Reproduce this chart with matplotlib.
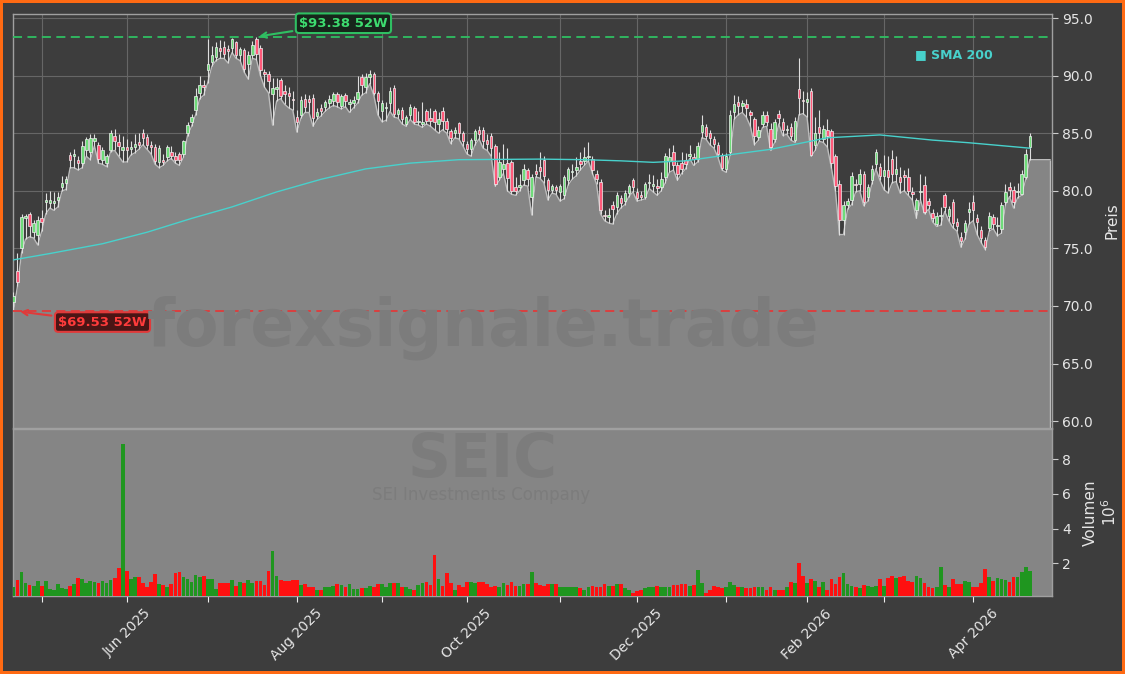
"""
SEIC daily candles with 52-week high/low, SMA 200 and volume panel.
Values were read off a reference chart screenshot.
"""

import numpy as np
import pandas as pd
import matplotlib
matplotlib.use("Agg")
import matplotlib.pyplot as plt
from matplotlib.ticker import FixedLocator, NullFormatter, FormatStrFormatter

TICKER = "SEIC"
COMPANY = "SEI Investments Company"
WATERMARK = "forexsignale.trade"

# Trading calendar (US market holidays in the range)
START = "2025-04-22"
END = "2026-04-22"
HOLIDAYS = ["2025-05-26", "2025-06-19", "2025-07-04", "2025-09-01", "2025-11-27",
            "2025-12-25", "2026-01-01", "2026-01-19", "2026-02-16", "2026-04-03"]

# ---------------------------------------------------------------------------
# Daily OHLC (USD) and volume (millions of shares)
# ---------------------------------------------------------------------------
opens = [
    70.3, 73.0, 75.0, 77.6, 78.0, 76.4, 76.2, 77.6, 79.0, 78.9,
    78.9, 79.2, 80.3, 80.7, 83.1, 83.0, 82.7, 82.4, 83.5, 83.4,
    84.3, 84.0, 82.7, 82.4, 83.5, 84.8, 84.2, 83.5, 83.8, 83.6,
    83.8, 84.2, 85.0, 84.7, 84.0, 83.8, 82.5, 82.7, 82.9, 83.4,
    83.0, 83.2, 83.2, 85.0, 86.0, 87.0, 88.5, 89.2, 90.5, 91.2,
    91.6, 92.4, 92.5, 92.3, 92.4, 92.9, 91.8, 92.2, 91.0, 91.8,
    93.2, 92.4, 90.3, 90.1, 88.4, 88.8, 89.6, 88.7, 88.5, 88.0,
    86.4, 86.6, 88.0, 88.0, 88.1, 86.5, 87.2, 87.3, 87.6, 87.8,
    88.4, 87.4, 88.3, 87.5, 87.6, 88.0, 89.9, 89.0, 89.9, 90.1,
    88.5, 86.9, 87.2, 87.6, 88.9, 86.7, 87.0, 85.8, 86.6, 87.2,
    86.0, 85.8, 86.9, 86.3, 86.9, 85.8, 86.9, 86.1, 85.2, 85.0,
    85.9, 85.0, 84.1, 83.6, 84.4, 85.3, 85.3, 84.4, 84.8, 83.9,
    81.2, 81.9, 82.4, 82.5, 80.3, 80.3, 80.9, 81.8, 79.5, 81.7,
    82.1, 82.7, 80.9, 80.1, 80.3, 79.9, 79.6, 80.9, 81.6, 81.8,
    82.6, 82.6, 82.9, 82.8, 81.5, 80.8, 77.9, 77.7, 78.8, 78.6,
    79.4, 79.1, 79.8, 80.9, 79.9, 79.6, 79.5, 80.7, 80.4, 80.4,
    80.3, 81.2, 82.6, 83.4, 82.2, 82.4, 82.7, 83.0, 82.9, 82.8,
    85.1, 85.5, 85.0, 84.5, 84.0, 83.1, 81.9, 83.4, 86.8, 87.7,
    87.4, 87.5, 86.8, 86.2, 84.7, 85.8, 86.6, 85.4, 84.5, 86.7,
    86.0, 85.3, 85.5, 84.4, 88.8, 87.9, 87.7, 88.7, 84.0, 85.5,
    84.5, 85.3, 85.2, 83.0, 80.6, 77.5, 78.8, 79.2, 80.6, 80.6,
    81.5, 79.5, 80.9, 82.3, 82.1, 81.3, 81.8, 82.8, 81.5, 81.2,
    81.4, 81.2, 79.9, 78.3, 79.9, 80.5, 79.1, 78.1, 77.1, 77.8,
    79.6, 77.8, 79.0, 77.3, 76.0, 76.4, 78.2, 79.0, 77.6, 76.6,
    75.7, 76.8, 77.7, 76.9, 76.7, 79.0, 80.3, 80.1, 79.9, 79.7,
    81.2, 83.8,
]
highs = [
    71.2, 74.6, 78.0, 78.0, 78.2, 77.5, 77.8, 78.3, 79.8, 80.0,
    79.9, 79.9, 81.3, 81.3, 83.4, 83.6, 83.0, 84.3, 84.7, 84.9,
    84.9, 84.2, 83.8, 83.2, 85.3, 85.4, 84.9, 84.8, 84.5, 84.3,
    84.9, 85.0, 85.4, 84.9, 84.3, 84.1, 84.0, 83.2, 84.0, 83.9,
    83.4, 83.4, 84.4, 86.0, 86.7, 88.9, 90.0, 89.6, 93.2, 92.6,
    92.9, 93.1, 93.0, 92.7, 93.3, 93.0, 92.5, 92.4, 92.1, 93.0,
    93.38, 92.7, 90.6, 90.4, 89.8, 89.8, 89.8, 89.2, 89.0, 88.7,
    87.0, 88.2, 88.4, 88.3, 88.4, 87.2, 87.5, 87.9, 88.3, 88.6,
    88.6, 88.4, 88.5, 88.0, 88.2, 90.0, 90.1, 90.2, 90.5, 90.3,
    88.7, 87.9, 87.7, 89.0, 89.2, 87.2, 87.3, 86.6, 87.5, 87.4,
    86.9, 87.7, 87.1, 87.2, 87.1, 86.8, 87.3, 86.3, 85.4, 85.5,
    86.0, 85.2, 84.3, 84.6, 85.4, 85.6, 85.5, 84.9, 85.0, 84.1,
    83.4, 84.1, 83.7, 82.7, 81.2, 81.5, 82.3, 82.0, 81.5, 82.3,
    83.4, 83.0, 81.1, 80.6, 80.5, 80.6, 81.4, 82.1, 82.3, 82.9,
    83.4, 83.8, 84.2, 83.0, 81.8, 81.0, 78.3, 78.5, 79.1, 79.9,
    79.6, 80.1, 80.6, 81.1, 80.2, 80.0, 80.8, 81.5, 81.4, 81.0,
    81.6, 83.3, 83.7, 84.0, 82.5, 83.4, 83.3, 84.0, 83.3, 84.2,
    86.6, 85.8, 85.3, 84.8, 84.2, 83.3, 83.3, 87.0, 88.3, 88.2,
    87.9, 88.0, 87.0, 86.4, 85.6, 86.9, 86.9, 85.9, 86.2, 87.0,
    86.3, 85.7, 85.9, 86.4, 91.5, 88.7, 88.6, 88.9, 86.4, 87.0,
    85.7, 86.2, 85.4, 83.2, 80.9, 79.1, 79.4, 81.6, 81.0, 81.9,
    81.7, 80.6, 82.2, 83.6, 82.4, 83.1, 83.0, 83.5, 83.0, 82.1,
    81.8, 82.0, 80.3, 79.4, 81.5, 81.3, 79.4, 78.4, 78.2, 78.6,
    79.8, 78.7, 79.3, 77.6, 76.4, 77.5, 79.0, 79.6, 78.0, 76.9,
    76.0, 78.2, 78.0, 77.7, 79.0, 80.6, 80.8, 80.4, 80.7, 81.8,
    83.6, 85.0,
]
lows = [
    69.53, 71.7, 74.6, 75.8, 76.0, 75.9, 75.3, 76.5, 78.0, 78.5,
    78.3, 78.6, 80.0, 80.1, 82.0, 82.0, 81.8, 82.0, 83.0, 82.7,
    83.9, 82.4, 82.3, 82.1, 83.4, 83.5, 83.0, 82.5, 82.5, 83.1,
    83.3, 83.6, 84.0, 83.6, 83.2, 82.3, 82.0, 82.2, 82.6, 82.8,
    82.4, 82.2, 82.9, 84.8, 85.6, 86.6, 88.0, 88.3, 89.4, 90.8,
    91.3, 91.5, 91.5, 91.1, 92.0, 91.5, 91.3, 90.3, 89.7, 91.5,
    91.4, 90.0, 89.0, 88.5, 85.7, 87.8, 88.0, 87.5, 87.2, 87.0,
    85.1, 86.3, 86.8, 86.8, 85.6, 86.2, 86.5, 86.9, 87.2, 87.4,
    87.3, 87.1, 87.3, 86.8, 87.2, 87.6, 88.3, 88.5, 89.3, 88.3,
    86.6, 86.0, 86.1, 86.9, 86.4, 86.3, 85.8, 85.6, 86.2, 85.8,
    85.7, 85.5, 85.8, 85.6, 85.3, 85.0, 85.3, 85.0, 84.1, 84.6,
    84.5, 83.9, 83.2, 83.0, 84.0, 84.5, 83.7, 83.5, 83.0, 80.4,
    80.9, 81.5, 80.0, 79.7, 79.6, 80.0, 80.5, 80.4, 77.9, 81.2,
    81.1, 80.7, 79.2, 79.8, 79.7, 79.1, 79.3, 80.5, 81.0, 81.3,
    81.8, 82.2, 82.6, 81.5, 80.6, 78.0, 77.4, 77.2, 77.1, 78.0,
    78.5, 78.8, 79.5, 79.9, 79.1, 79.2, 79.3, 80.2, 79.9, 79.6,
    80.0, 80.7, 81.6, 81.8, 80.9, 81.5, 81.9, 82.8, 82.2, 82.5,
    84.6, 84.5, 84.0, 83.7, 82.9, 81.8, 81.6, 83.1, 86.2, 86.6,
    86.8, 86.4, 85.6, 84.0, 84.4, 85.5, 85.6, 83.5, 84.2, 85.8,
    84.8, 84.9, 84.4, 84.2, 86.6, 86.7, 86.4, 83.0, 83.5, 84.3,
    84.2, 83.8, 82.0, 80.0, 76.2, 76.2, 78.4, 78.8, 79.9, 80.0,
    78.7, 79.1, 80.6, 81.9, 80.9, 80.1, 79.8, 80.7, 80.8, 79.8,
    80.0, 79.6, 79.2, 77.6, 79.2, 78.0, 78.4, 77.3, 76.9, 77.0,
    78.2, 77.4, 76.8, 76.5, 75.1, 75.8, 77.1, 77.4, 76.2, 75.5,
    74.9, 76.5, 76.7, 76.1, 76.3, 78.8, 79.5, 78.5, 79.4, 79.6,
    81.0, 82.7,
]
closes = [
    70.9, 72.1, 77.7, 77.8, 76.9, 77.2, 77.5, 77.3, 79.2, 79.2,
    79.1, 79.5, 80.7, 81.0, 82.7, 83.2, 82.4, 83.9, 84.5, 84.6,
    84.6, 82.8, 83.5, 83.0, 85.0, 84.3, 83.9, 83.8, 83.5, 83.8,
    84.1, 84.0, 84.6, 84.0, 83.8, 82.6, 83.7, 82.5, 83.8, 83.0,
    82.7, 82.7, 84.3, 85.7, 86.4, 88.2, 89.2, 89.0, 91.0, 91.8,
    92.5, 92.1, 91.9, 92.1, 93.2, 91.8, 92.3, 90.6, 91.8, 92.7,
    91.9, 90.5, 90.1, 89.5, 88.9, 89.0, 88.2, 88.4, 88.2, 87.9,
    86.0, 87.9, 87.3, 87.7, 86.3, 86.8, 86.9, 87.7, 88.0, 88.4,
    87.7, 88.2, 87.8, 87.7, 87.9, 88.6, 89.2, 89.9, 90.1, 88.5,
    87.8, 87.6, 87.3, 88.7, 86.7, 87.0, 86.2, 86.4, 87.3, 86.0,
    86.1, 86.0, 86.1, 86.1, 86.0, 86.2, 86.1, 85.4, 84.6, 85.3,
    85.0, 84.3, 83.6, 84.4, 85.2, 84.9, 84.3, 84.1, 83.7, 80.6,
    82.5, 82.3, 81.1, 80.0, 80.0, 80.5, 81.9, 81.0, 81.2, 81.5,
    81.7, 81.3, 80.1, 80.4, 80.1, 80.4, 81.2, 81.9, 81.7, 82.1,
    82.3, 82.9, 83.0, 81.8, 81.0, 78.3, 77.8, 77.9, 78.4, 79.6,
    78.9, 79.8, 80.4, 80.3, 79.4, 79.5, 80.6, 80.8, 80.6, 80.2,
    81.0, 83.0, 82.9, 82.2, 81.5, 81.9, 82.3, 83.2, 82.8, 83.9,
    85.7, 84.8, 84.6, 84.1, 83.2, 82.0, 83.0, 86.6, 87.5, 87.4,
    87.6, 87.2, 86.6, 84.8, 85.3, 86.6, 86.0, 83.8, 86.0, 86.3,
    85.3, 85.4, 84.8, 86.1, 88.1, 87.8, 88.0, 83.1, 85.0, 85.0,
    85.4, 84.8, 82.4, 80.4, 77.5, 78.8, 79.1, 81.3, 80.5, 81.5,
    79.0, 80.3, 81.9, 83.4, 81.3, 81.8, 81.2, 81.5, 81.9, 80.8,
    81.2, 80.0, 79.7, 79.2, 80.0, 78.2, 78.8, 77.6, 77.8, 77.9,
    78.6, 78.4, 77.2, 76.9, 75.6, 77.2, 78.4, 78.3, 77.3, 75.9,
    75.1, 77.8, 77.1, 77.0, 78.8, 79.9, 80.1, 79.0, 80.0, 81.5,
    83.2, 84.8,
]
volumes = [
    0.63, 1.02, 1.50, 0.83, 0.73, 0.68, 0.98, 0.68, 0.98, 0.48,
    0.44, 0.80, 0.55, 0.48, 0.65, 0.80, 1.15, 1.08, 0.88, 0.98,
    0.93, 0.83, 0.98, 0.88, 1.00, 1.15, 1.73, 8.87, 1.56, 1.10,
    1.20, 1.20, 0.88, 0.63, 0.93, 1.37, 0.80, 0.73, 0.63, 0.80,
    1.44, 1.50, 1.21, 1.10, 0.93, 1.31, 1.21, 1.25, 1.10, 1.10,
    0.48, 0.88, 0.83, 0.88, 1.02, 0.68, 0.93, 0.83, 1.02, 0.88,
    0.98, 0.98, 0.73, 1.56, 2.71, 1.25, 1.02, 0.98, 0.98, 1.02,
    1.02, 0.73, 0.78, 0.63, 0.63, 0.44, 0.44, 0.63, 0.63, 0.68,
    0.78, 0.73, 0.63, 0.78, 0.50, 0.50, 0.54, 0.54, 0.68, 0.60,
    0.78, 0.78, 0.63, 0.87, 0.83, 0.87, 0.63, 0.60, 0.50, 0.44,
    0.73, 0.87, 0.93, 0.73, 2.46, 1.10, 0.68, 1.44, 0.87, 0.44,
    0.73, 0.63, 0.93, 0.93, 0.87, 0.93, 0.93, 0.78, 0.60, 0.68,
    0.63, 0.83, 0.73, 0.93, 0.68, 0.68, 0.78, 0.78, 1.50, 0.87,
    0.73, 0.68, 0.78, 0.78, 0.78, 0.63, 0.60, 0.60, 0.60, 0.60,
    0.54, 0.44, 0.63, 0.68, 0.63, 0.63, 0.78, 0.68, 0.68, 0.78,
    0.78, 0.54, 0.44, 0.30, 0.40, 0.44, 0.54, 0.60, 0.63, 0.68,
    0.60, 0.63, 0.63, 0.73, 0.73, 0.78, 0.78, 0.68, 0.73, 1.60,
    0.83, 0.30, 0.44, 0.68, 0.60, 0.54, 0.63, 0.93, 0.73, 0.63,
    0.63, 0.54, 0.54, 0.60, 0.63, 0.63, 0.44, 0.60, 0.44, 0.44,
    0.44, 0.63, 0.93, 0.83, 2.00, 1.27, 0.83, 1.07, 0.98, 0.63,
    0.93, 0.44, 1.07, 0.78, 1.21, 1.41, 0.78, 0.68, 0.63, 0.54,
    0.73, 0.68, 0.63, 0.68, 1.07, 0.68, 1.12, 1.25, 1.12, 1.17,
    1.25, 0.98, 0.93, 1.25, 1.12, 0.87, 0.63, 0.58, 0.63, 1.79,
    0.73, 0.63, 1.07, 0.78, 0.78, 0.98, 0.90, 0.60, 0.63, 0.83,
    1.64, 1.21, 0.98, 1.12, 1.07, 1.02, 0.93, 1.21, 1.21, 1.50,
    1.79, 1.56,
]

# SMA 200 read at a handful of bars (bar index -> value)
sma_idx = [0, 9, 22, 33, 44, 54, 65, 76, 87, 98, 110, 130, 141, 150, 158,
           166, 173, 187, 194, 201, 214, 227, 236, 251]
sma_val = [74.0, 74.55, 75.4, 76.4, 77.6, 78.6, 79.9, 81.0, 81.9, 82.4, 82.7,
           82.75, 82.7, 82.6, 82.47, 82.6, 82.95, 83.6, 84.1, 84.6, 84.85,
           84.4, 84.17, 83.7]

# Colours
BG = "#3d3d3d"
FILL = "#858585"
FILL_EDGE = "#bcbcbc"
GRID = "#666666"
SPINE = "#a0a0a0"
TEXT = "#e6e6e6"
UP = "#6fdc7a"
DOWN = "#ff5a7a"
VOL_UP = "#1f961f"
VOL_DOWN = "#ff1010"
SMA_COLOR = "#48d1cc"
HI_COLOR = "#2fbf62"
LO_COLOR = "#e03a3a"
BORDER = "#ff6a13"
MARK = "#7c7c7c"


def trading_days():
    return pd.bdate_range(START, END, freq="C", holidays=HOLIDAYS)


def month_starts(dates):
    """Bar indices of the first trading day of each month (skip the partial first month)."""
    major, minor = [], []
    for i in range(1, len(dates)):
        if dates[i].month != dates[i - 1].month:
            (major if dates[i].month % 2 == 0 else minor).append(i)
    return major, minor


def draw_price(ax, x, o, h, l, c, ylim):
    up = c >= o
    # grey area under the lows, extended a little past the last bar
    fx = np.append(x, x[-1] + 5.0)
    fy = np.append(l, l[-1])
    ax.fill_between(fx, ylim[0], fy, color=FILL, zorder=2, linewidth=0)
    ax.plot(fx, fy, color=FILL_EDGE, lw=1.0, zorder=2.5)
    ax.vlines(fx[-1], ylim[0], fy[-1], color=FILL_EDGE, lw=1.0, zorder=2.5)

    # candles
    ax.vlines(x, l, h, color="#dedede", lw=0.8, zorder=3)
    body = np.maximum(np.abs(c - o), 0.08)
    ax.bar(x, body, bottom=np.minimum(o, c), width=0.62,
           color=np.where(up, UP, DOWN), edgecolor="#f2f2f2",
           linewidth=0.5, zorder=4)

    ax.plot(sma_idx, sma_val, color=SMA_COLOR, lw=1.0, zorder=5)

    hi_i, lo_i = int(np.argmax(h)), int(np.argmin(l))
    hi, lo = h[hi_i], l[lo_i]
    ax.axhline(hi, color=HI_COLOR, ls=(0, (5, 3)), lw=1.3, zorder=6)
    ax.axhline(lo, color=LO_COLOR, ls=(0, (5, 3)), lw=1.3, zorder=6)

    ax.annotate(f"\\${hi:.2f} 52W", xy=(hi_i, hi), xytext=(81.5, 94.55),
                ha="center", va="center", color="#3ddc6f", fontsize=9.5,
                fontweight="bold", zorder=8,
                bbox=dict(boxstyle="round,pad=0.25", fc="#17261b", ec=HI_COLOR, lw=1.5),
                arrowprops=dict(arrowstyle="->", color=HI_COLOR, lw=1.5))
    ax.annotate(f"\\${lo:.2f} 52W", xy=(lo_i + 1, lo), xytext=(22.0, 68.6),
                ha="center", va="center", color="#ff3b3b", fontsize=9.5,
                fontweight="bold", zorder=8,
                bbox=dict(boxstyle="round,pad=0.25", fc="#4a1515", ec=LO_COLOR, lw=1.5),
                arrowprops=dict(arrowstyle="->", color=LO_COLOR, lw=1.5))

    ax.text(0.868, 0.901, "\u25a0 SMA 200", transform=ax.transAxes,
            color=SMA_COLOR, fontsize=9, fontweight="bold", va="center", zorder=8)


def style_axis(ax):
    for s in ax.spines.values():
        s.set_color(SPINE)
        s.set_linewidth(1.0)
    ax.yaxis.tick_right()
    ax.yaxis.set_label_position("right")
    ax.tick_params(axis="y", colors=TEXT, labelsize=10, length=4, color="#cccccc")


def main():
    dates = trading_days()
    n = len(closes)
    dates = dates[:n]
    x = np.arange(n)
    o, h, l, c = (np.array(a, dtype=float) for a in (opens, highs, lows, closes))
    v = np.array(volumes)
    major, minor = month_starts(dates)

    fig = plt.figure(figsize=(11.25, 6.74), dpi=100, facecolor=BG,
                     edgecolor=BORDER, linewidth=3)
    ax = fig.add_axes([0.01156, 0.3650, 0.9236, 0.6142], facecolor=BG)
    axv = fig.add_axes([0.01156, 0.1157, 0.9236, 0.2478], facecolor=FILL, sharex=ax)

    ylim = (59.4, 95.35)
    draw_price(ax, x, o, h, l, c, ylim)
    ax.set_ylim(ylim)
    ax.set_xlim(-0.1, 256.5)
    ax.set_yticks(np.arange(60, 96, 5))
    ax.yaxis.set_major_formatter(FormatStrFormatter("%.1f"))
    ax.set_axisbelow(True)
    ax.grid(True, color=GRID, lw=0.8)
    style_axis(ax)
    ax.set_ylabel("Preis", color=TEXT, fontsize=11, labelpad=8)

    # volume panel
    axv.bar(x, v, width=0.92, color=np.where(c >= o, VOL_UP, VOL_DOWN), zorder=3)
    axv.set_ylim(0.1, 9.75)
    axv.set_yticks([2, 4, 6, 8])
    style_axis(axv)
    axv.set_ylabel("Volumen\n$10^6$", color=TEXT, fontsize=11, labelpad=8,
                   multialignment="center")

    axv.xaxis.set_major_locator(FixedLocator(major))
    axv.xaxis.set_minor_locator(FixedLocator(minor))
    axv.set_xticklabels([dates[i].strftime("%b %Y") for i in major])
    axv.xaxis.set_minor_formatter(NullFormatter())
    axv.tick_params(axis="x", which="both", colors=TEXT, labelsize=10,
                    length=4, color="#eeeeee")
    plt.setp(axv.get_xticklabels(), rotation=45)

    # month grid on price panel, no tick marks/labels there
    ax.xaxis.set_major_locator(FixedLocator(sorted(major + minor)))
    ax.tick_params(axis="x", which="both", length=0, labelbottom=False)

    # watermarks
    fig.text(0.429, 0.513, WATERMARK, ha="center", va="center", fontsize=46.5,
             fontweight="bold", color=MARK, zorder=1)
    fig.text(0.429, 0.317, TICKER, ha="center", va="center", fontsize=43,
             fontweight="bold", color=MARK, zorder=1)
    fig.text(0.4276, 0.266, COMPANY, ha="center", va="center", fontsize=12,
             color=MARK, zorder=1)

    fig.savefig("out.png", dpi=100, facecolor=fig.get_facecolor(),
                edgecolor=fig.get_edgecolor())


if __name__ == "__main__":
    main()
